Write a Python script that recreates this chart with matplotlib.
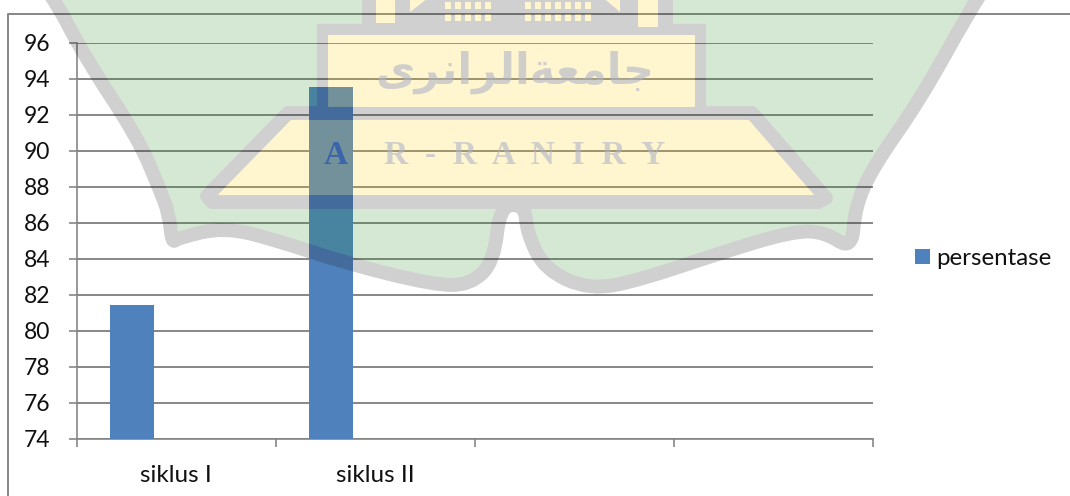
import numpy as np
import matplotlib
matplotlib.use("Agg")
import matplotlib.pyplot as plt
from matplotlib.backends.backend_agg import FigureCanvasAgg
from matplotlib.figure import Figure
from matplotlib.patches import Polygon, PathPatch
from matplotlib.path import Path

categories = ["siklus I", "siklus II", "", ""]
persentase = [81.45, 93.55]
y_ticks = [74, 76, 78, 80, 82, 84, 86, 88, 90, 92, 94, 96]
series_name = "persentase"

W, H = 1070, 496
LINE = "#868686"
BAR = "#4f81bd"
TEXT = "#101010"

plt.rcParams["font.family"] = ["Lato", "DejaVu Sans"]

# watermark outline, in pixels of the picture
shield = [(38, -20), (55, 0), (86, 59), (138, 138), (160, 190), (169, 214), (172, 243), (178, 238), (224, 227),
          (276, 240), (345, 263), (434, 285), (470, 285), (494, 262), (500, 205), (525, 205), (527, 233),
          (545, 270), (590, 290), (640, 280), (720, 253), (793, 231), (825, 232), (852, 250), (855, 207),
          (873, 167), (920, 100), (970, 10), (990, -20)]
flask = [(207, 196), (288, 113), (752, 113), (826, 198), (818, 202), (212, 202)]
body = [(322, 29), (700, 29), (700, 112), (322, 112)]
roof = [(362, -5), (673, -5), (673, 30), (362, 30)]
tower_l = [(376, -5), (395, -5), (395, 23), (376, 23)]
tower_r = [(638, -5), (658, -5), (658, 27), (638, 27)]
dome_l = [(410, -5), (432, -5), (410, 12)]
dome_r = [(600, -5), (620, -5), (620, 12)]

GREEN = (45 / 255, 140 / 255, 40 / 255)
YELLOW = (1.0, 210 / 255, 15 / 255)
GRAY = (20 / 255, 20 / 255, 20 / 255)
TEXT_MARK = "#b0b4c8"


def smooth(points):
    # quadratic curve through the midpoints, the given points pull it
    pts = list(points)
    verts = [pts[0], ((pts[0][0] + pts[1][0]) / 2, (pts[0][1] + pts[1][1]) / 2)]
    codes = [Path.MOVETO, Path.LINETO]
    for p, q in zip(pts[1:-1], pts[2:]):
        verts += [p, ((p[0] + q[0]) / 2, (p[1] + q[1]) / 2)]
        codes += [Path.CURVE3, Path.CURVE3]
    verts += [pts[-1], pts[0]]
    codes += [Path.LINETO, Path.CLOSEPOLY]
    return Path(verts, codes)


def watermark_layer():
    # drawn opaque first, so that the layers do not add up, then faded as one
    f = Figure(figsize=(W / 100, H / 100), dpi=100)
    canvas = FigureCanvasAgg(f)
    f.patch.set_alpha(0)
    a = f.add_axes([0, 0, 1, 1])
    a.set_xlim(0, W)
    a.set_ylim(H, 0)
    a.axis("off")
    a.add_patch(PathPatch(smooth(shield), fc=GREEN, ec=GRAY, lw=10, joinstyle="round"))
    a.add_patch(Polygon(flask, closed=True, fc=YELLOW, ec=GRAY, lw=10, joinstyle="round"))
    a.add_patch(Polygon(body, closed=True, fc=YELLOW, ec=GRAY, lw=8, joinstyle="miter"))
    a.add_patch(Polygon(roof, closed=True, fc=GRAY, ec="none"))
    for shape in [tower_l, tower_r, dome_l, dome_r]:
        a.add_patch(Polygon(shape, closed=True, fc=YELLOW, ec="none"))
    for wx in range(445, 588, 10):
        if 490 < wx < 520:
            continue
        for wy in (2, 14):
            a.add_patch(Polygon([(wx, wy), (wx + 6, wy), (wx + 6, wy + 7), (wx, wy + 7)], closed=True, fc=YELLOW, ec="none"))
    canvas.draw()
    rgba = np.asarray(canvas.buffer_rgba()).astype(float) / 255
    rgba[..., 3] *= 0.2
    return rgba


fig = plt.figure(figsize=(W / 100, H / 100), dpi=100, facecolor="white")
ax = fig.add_axes([76.5 / W, 1 - 438.7 / H, (873 - 76.5) / W, (438.7 - 42.7) / H])

x = np.arange(len(persentase))
ax.bar(x + 0.279, persentase, width=0.221, color=BAR, zorder=3, label=series_name)

ax.set_xlim(0, len(categories))
ax.set_ylim(74, 96)
ax.set_yticks(y_ticks)
ax.set_xticks(np.arange(len(categories) + 1))
ax.set_xticklabels([])
ax.set_xticks(np.arange(len(categories)) + 0.5, labels=categories, minor=True)
ax.yaxis.grid(True, color=LINE, lw=1.4)
ax.set_axisbelow(True)
ax.tick_params(axis="y", length=6, width=1.2, color=LINE, pad=13, labelsize=16.5, labelcolor=TEXT)
ax.tick_params(axis="x", which="major", length=6, width=1.2, color=LINE)
ax.tick_params(axis="x", which="minor", length=0, pad=19, labelsize=17.5, labelcolor=TEXT)
for s in ["top", "right"]:
    ax.spines[s].set_visible(False)
for s in ["left", "bottom"]:
    ax.spines[s].set_color(LINE)
    ax.spines[s].set_linewidth(1.2)

fig.legend(loc="center left", bbox_to_anchor=(915 / W, 1 - 258.5 / H), frameon=False, fontsize=17.3,
           handlelength=0.62, handleheight=0.62, handletextpad=0.27, labelcolor=TEXT, borderpad=0, borderaxespad=0)

# chart frame
fig.add_artist(plt.Line2D([8 / W, 8 / W, 1], [0, 1 - 13.7 / H, 1 - 13.7 / H], color=LINE, lw=1.4))

fig.figimage(watermark_layer(), zorder=5)

# visual order, shaped forms, since matplotlib does not join arabic letters
fig.text(515 / W, 1 - 72 / H, "\ufeef\ufeae\ufee7\ufe8d\ufeae\ufedf\ufe8d\ufe94\ufecc\ufee3\ufe8e\ufe9f",
         family="DejaVu Sans", fontsize=31, fontweight="bold", color=TEXT_MARK, alpha=0.6, ha="center", va="center", zorder=6)
fig.text(336 / W, 1 - 156 / H, "A", family="Liberation Serif", fontsize=24, fontweight="bold",
         color="#3a64ac", ha="center", va="center", zorder=6)
fig.text(525 / W, 1 - 156 / H, "R  -  R  A  N  I  R  Y", family="Liberation Serif", fontsize=24, fontweight="bold",
         color=TEXT_MARK, alpha=0.6, ha="center", va="center", zorder=6)

fig.savefig("out.png", dpi=100)
